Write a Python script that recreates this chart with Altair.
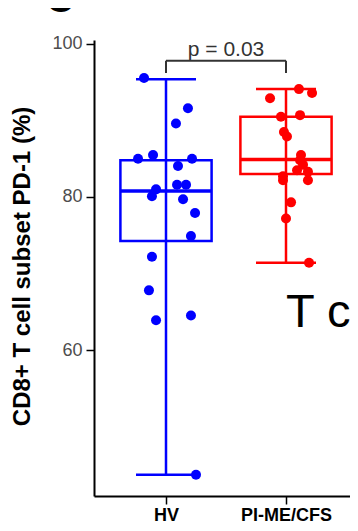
import altair as alt
import pandas as pd

groups = ["HV", "PI-ME/CFS"]
group_pos = [1, 2]
colors = ["#0000FF", "#FF0000"]

# box statistics per group
q1 = [74.25, 83.0]
median = [80.8, 84.9]
q3 = [84.8, 90.5]
whisk_lo = [43.7, 71.4]
whisk_hi = [95.4, 94.1]

# points: values and horizontal jitter offsets
hv_values = [95.56, 91.6, 89.6, 85.0, 85.5, 85.0, 84.05, 81.0, 80.1, 81.6,
             81.6, 79.7, 77.9, 74.9, 72.2, 67.8, 64.5, 63.9, 43.7]
hv_offsets = [-0.183, 0.183, 0.083, -0.233, -0.108, 0.217, 0.1, -0.083, -0.117, 0.092,
              0.167, 0.142, 0.242, 0.208, -0.117, -0.142, 0.208, -0.083, 0.25]
pi_values = [92.9, 94.1, 93.6, 90.5, 90.7, 88.5, 87.9, 85.5, 84.8, 84.2,
             83.5, 83.3, 82.7, 82.2, 82.2, 79.3, 77.2, 71.4]
pi_offsets = [-0.133, 0.108, 0.217, -0.042, 0.117, -0.017, 0.008, 0.125, 0.117, 0.142,
              0.092, 0.183, -0.025, -0.025, 0.183, 0.042, 0.0, 0.192]

p_label = "p = 0.03"
bracket_y = 97.8
bracket_leg = 96.2
p_text_y = 98.4

BOX_HALF = 0.38
CAP_HALF = 0.25

box_df = pd.DataFrame({
    "group": groups,
    "pos": group_pos,
    "q1": q1, "median": median, "q3": q3,
    "lo": whisk_lo, "hi": whisk_hi,
})
box_df["left"] = box_df["pos"] - BOX_HALF
box_df["right"] = box_df["pos"] + BOX_HALF
box_df["cl"] = box_df["pos"] - CAP_HALF
box_df["cr"] = box_df["pos"] + CAP_HALF

pts = pd.DataFrame({
    "group": ["HV"] * len(hv_values) + ["PI-ME/CFS"] * len(pi_values),
    "value": hv_values + pi_values,
    "off": hv_offsets + pi_offsets,
})
pts["x"] = pts["group"].map(dict(zip(groups, group_pos))) + pts["off"]

color = alt.Color("group:N", scale=alt.Scale(domain=groups, range=colors), legend=None)

xscale = alt.Scale(domain=[0.4, 0.4 + 256 / 120], nice=False, zero=False)
yscale = alt.Scale(domain=[40.92, 100.52], nice=False, zero=False)

FONT = "Liberation Sans"

xaxis = alt.Axis(
    values=group_pos,
    labelExpr="datum.value == 1 ? 'HV' : 'PI-ME/CFS'",
    title=None, grid=False,
    labelFont=FONT, labelFontSize=18, labelFontWeight="bold", labelColor="#000000",
    tickColor="#000000", tickSize=8, tickWidth=1.5,
    domainColor="#000000", domainWidth=2, labelPadding=2,
)
yaxis = alt.Axis(
    values=[60, 80, 100],
    title="CD8+ T cell subset PD-1 (%)", grid=False,
    labelFont=FONT, labelFontSize=18, labelColor="#4D4D4D",
    tickColor="#000000", tickSize=8, tickWidth=1.5,
    domainColor="#000000", domainWidth=2, labelPadding=4,
    titleFont=FONT, titleFontSize=24, titleFontWeight="bold", titleColor="#000000",
    titleX=-72, titleY=226, titleAlign="center", titleBaseline="middle",
)

base_box = alt.Chart(box_df)

whisker = base_box.mark_rule(strokeWidth=2.5).encode(
    x=alt.X("pos:Q", scale=xscale, axis=xaxis),
    y=alt.Y("lo:Q", scale=yscale, axis=yaxis),
    y2="hi:Q",
    color=color,
)
cap_lo = base_box.mark_rule(strokeWidth=2.5).encode(
    x=alt.X("cl:Q", scale=xscale), x2="cr:Q",
    y=alt.Y("lo:Q", scale=yscale), color=color,
)
cap_hi = base_box.mark_rule(strokeWidth=2.5).encode(
    x=alt.X("cl:Q", scale=xscale), x2="cr:Q",
    y=alt.Y("hi:Q", scale=yscale), color=color,
)
box = base_box.mark_rect(fillOpacity=0, strokeWidth=2.5).encode(
    x=alt.X("left:Q", scale=xscale), x2="right:Q",
    y=alt.Y("q1:Q", scale=yscale), y2="q3:Q",
    stroke=color,
)
med = base_box.mark_rule(strokeWidth=3.5).encode(
    x=alt.X("left:Q", scale=xscale), x2="right:Q",
    y=alt.Y("median:Q", scale=yscale), color=color,
)

points = alt.Chart(pts).mark_circle(size=100, opacity=1).encode(
    x=alt.X("x:Q", scale=xscale),
    y=alt.Y("value:Q", scale=yscale),
    color=color,
)

br_df = pd.DataFrame({
    "x1": [group_pos[0], group_pos[0], group_pos[1]],
    "x2": [group_pos[1], group_pos[0], group_pos[1]],
    "y1": [bracket_y, bracket_y, bracket_y],
    "y2": [bracket_y, bracket_leg, bracket_leg],
})
bracket = alt.Chart(br_df).mark_rule(color="#333333", strokeWidth=2).encode(
    x=alt.X("x1:Q", scale=xscale), x2="x2:Q",
    y=alt.Y("y1:Q", scale=yscale), y2="y2:Q",
)
ptext_df = pd.DataFrame({"x": [sum(group_pos) / 2], "y": [p_text_y], "t": [p_label]})
ptext = alt.Chart(ptext_df).mark_text(
    font=FONT, fontSize=21, color="#333333", baseline="alphabetic", align="center"
).encode(
    x=alt.X("x:Q", scale=xscale), y=alt.Y("y:Q", scale=yscale), text="t:N"
)

overlay_df = pd.DataFrame({"t": ["T c"]})
overlay = alt.Chart(overlay_df).mark_text(
    font=FONT, fontSize=47, color="#000000", align="left", baseline="alphabetic"
).encode(x=alt.value(192), y=alt.value(287), text="t:N")

panel_df = pd.DataFrame({"t": ["C"]})
panel = alt.Chart(panel_df).mark_text(
    font=FONT, fontSize=40, fontWeight="bold", color="#000000", align="center", baseline="alphabetic"
).encode(x=alt.value(-34), y=alt.value(-28), text="t:N")

chart = alt.layer(
    whisker, cap_lo, cap_hi, box, med, points, bracket, ptext, overlay, panel
).properties(
    width=256, height=456,
    padding={"left": 86, "top": 32, "right": 0, "bottom": 27},
    autosize=alt.AutoSizeParams(type="none"),
).configure_view(stroke=None)

chart.save("out.html", embed_options={"renderer": "svg", "actions": False})
